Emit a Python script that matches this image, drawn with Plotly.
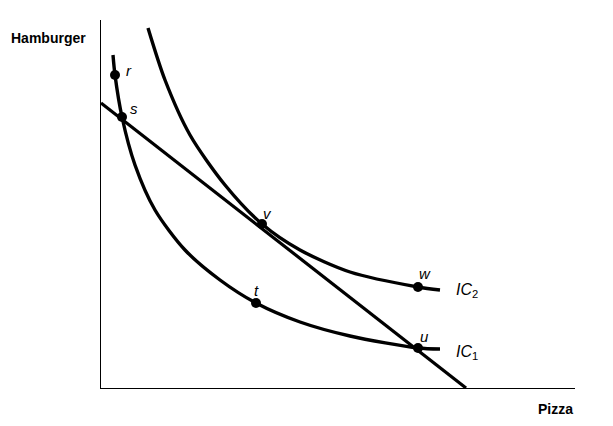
import plotly.graph_objects as go

ic1_x = [12, 14, 21, 34, 54, 84, 119, 155, 199, 249, 317, 339]
ic1_y = [333, 313, 271, 223, 178, 138, 108, 85, 66, 52, 40, 39]
ic2_x = [47, 64, 89, 124, 161, 199, 249, 317, 339]
ic2_y = [360, 308, 253, 203, 164, 138, 116, 101, 98]
budget_x = [0, 365]
budget_y = [285, 0]
pt_names = ["r", "s", "t", "v", "w", "u"]
pt_x = [14, 21, 155, 161, 317, 317]
pt_y = [313, 271, 85, 164, 101, 40]

fig = go.Figure()
line = dict(color="black", width=3.4, shape="spline", smoothing=0.8)
fig.add_trace(go.Scatter(x=ic1_x, y=ic1_y, mode="lines", line=line))
fig.add_trace(go.Scatter(x=ic2_x, y=ic2_y, mode="lines", line=line))
fig.add_trace(go.Scatter(x=budget_x, y=budget_y, mode="lines", line=dict(color="black", width=3.2)))
fig.add_trace(go.Scatter(x=pt_x, y=pt_y, mode="markers", marker=dict(color="black", size=10)))

offs = {"r": (14, -5), "s": (12, -9), "t": (0, -13), "v": (5, -11), "w": (7, -14), "u": (6, -12)}
for n, x, y in zip(pt_names, pt_x, pt_y):
    dx, dy = offs[n]
    fig.add_annotation(x=x, y=y, text=f"<i>{n}</i>", showarrow=False, xshift=dx, yshift=-dy,
                       font=dict(size=15, color="black"))
fig.add_annotation(x=347, y=101, text="<i>IC</i><sub>2</sub>", showarrow=False, xanchor="left",
                   xshift=6, yshift=-3, font=dict(size=16, color="black"))
fig.add_annotation(x=347, y=40, text="<i>IC</i><sub>1</sub>", showarrow=False, xanchor="left",
                   xshift=6, yshift=-4, font=dict(size=16, color="black"))
fig.add_annotation(xref="paper", yref="paper", x=-0.194, y=1.0, text="<b>Hamburger</b>", showarrow=False,
                   xanchor="left", yanchor="top", yshift=-8, font=dict(size=14, color="black"))
fig.add_annotation(xref="paper", yref="paper", x=1.0, y=0, text="<b>Pizza</b>", showarrow=False,
                   xanchor="right", yanchor="top", yshift=-11, font=dict(size=14, color="black"))

fig.update_layout(
    width=597, height=410, showlegend=False, plot_bgcolor="white", paper_bgcolor="white",
    margin=dict(l=93, r=30, t=12, b=30),
    font=dict(family="Liberation Sans, Arial"),
    xaxis=dict(range=[0, 474], showgrid=False, zeroline=False, showticklabels=False, ticks="",
               showline=True, linecolor="black", linewidth=1.2),
    yaxis=dict(range=[0, 368], showgrid=False, zeroline=False, showticklabels=False, ticks="",
               showline=True, linecolor="black", linewidth=1.2),
)
fig.write_html("out.html")
